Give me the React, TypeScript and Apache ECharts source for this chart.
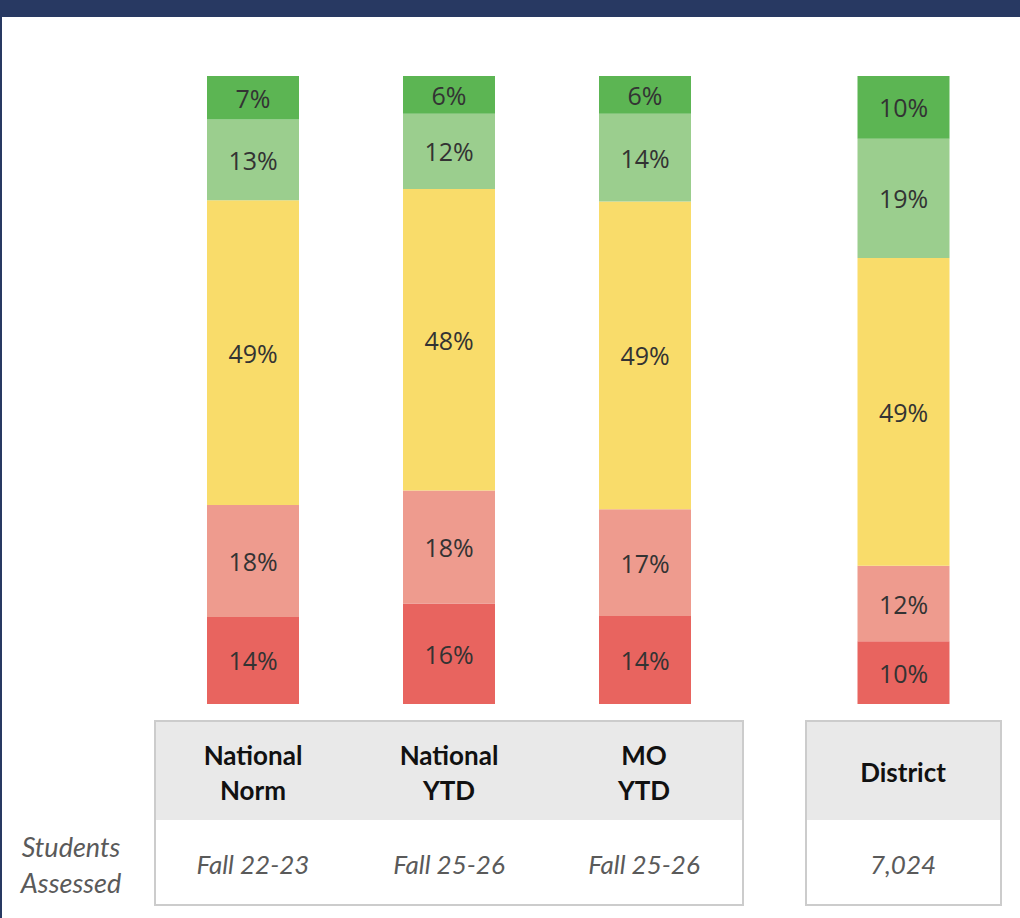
import React, { useEffect, useRef } from "react";
import * as echarts from "echarts";

const groupCategories = ["National Norm", "National YTD", "MO YTD"];
const groupHeaderLines = [["National", "Norm"], ["National", "YTD"], ["MO", "YTD"]];
const groupAssessed = ["Fall 22-23", "Fall 25-26", "Fall 25-26"];
const districtCategories = ["District"];
const districtAssessed = ["7,024"];

const levelNames = ["Low", "LoAvg", "Avg", "HiAvg", "High"];
const levelColors = ["#E8645F", "#EE9B8E", "#F9DC6A", "#9BCE8E", "#5CB553"];

// values per level (bottom to top), one entry per bar
const groupLow = [14, 16, 14];
const groupLoAvg = [18, 18, 17];
const groupAvg = [49, 48, 49];
const groupHiAvg = [13, 12, 14];
const groupHigh = [7, 6, 6];

const districtLow = [10];
const districtLoAvg = [12];
const districtAvg = [49];
const districtHiAvg = [19];
const districtHigh = [10];

const rowLabel = ["Students", "Assessed"];

export default function App() {
  const ref = useRef<HTMLDivElement>(null);

  useEffect(() => {
    if (!ref.current) return;
    const chart = echarts.init(ref.current, null, { renderer: "svg" });

    const groupLevels = [groupLow, groupLoAvg, groupAvg, groupHiAvg, groupHigh];
    const districtLevels = [districtLow, districtLoAvg, districtAvg, districtHiAvg, districtHigh];

    const normalize = (levels: number[][]) => {
      const n = levels[0].length;
      const totals = Array.from({ length: n }, (_, i) => levels.reduce((s, l) => s + l[i], 0));
      return levels.map((l) => l.map((v, i) => ({ value: (v / totals[i]) * 100, raw: v })));
    };

    const gN = normalize(groupLevels);
    const dN = normalize(districtLevels);

    const labelStyle = {
      show: true,
      position: "inside" as const,
      fontFamily: "Open Sans",
      fontSize: 25,
      color: "#333333",
      formatter: (p: any) => `${p.data.raw}%`,
    };

    const mkSeries = (norm: any[], axisIdx: number, stack: string) =>
      norm.map((d, k) => ({
        type: "bar",
        name: levelNames[k],
        stack,
        xAxisIndex: axisIdx,
        yAxisIndex: axisIdx,
        barWidth: 92,
        data: d,
        itemStyle: { color: levelColors[k] },
        label: labelStyle,
        emphasis: { disabled: true },
      }));

    const headerFont = { fontFamily: "Lato", fontWeight: "bold" as const, fontSize: 26, fill: "#111111" };
    const italicFont = { fontFamily: "Lato", fontStyle: "italic" as const, fontSize: 26, fill: "#5a5a5a" };
    const rowFont = { ...italicFont, fontSize: 27 };

    const graphics: any[] = [
      { type: "rect", shape: { x: 0, y: 0, width: 1020, height: 17 }, style: { fill: "#283962" }, z: 10 },
      { type: "rect", shape: { x: 0, y: 0, width: 2, height: 918 }, style: { fill: "#283962" }, z: 10 },
      // table 1
      { type: "rect", shape: { x: 155, y: 721, width: 588, height: 99 }, style: { fill: "#E9E9E9" } },
      { type: "rect", shape: { x: 155, y: 721, width: 588, height: 184 }, style: { fill: "none", stroke: "#CCCCCC", lineWidth: 2 } },
      // table 2
      { type: "rect", shape: { x: 806, y: 721, width: 195, height: 99 }, style: { fill: "#E9E9E9" } },
      { type: "rect", shape: { x: 806, y: 721, width: 195, height: 184 }, style: { fill: "none", stroke: "#CCCCCC", lineWidth: 2 } },
      {
        type: "text",
        x: 71,
        y: 846,
        style: { text: rowLabel[0], ...rowFont, align: "center", verticalAlign: "middle" },
      },
      {
        type: "text",
        x: 71,
        y: 882,
        style: { text: rowLabel[1], ...rowFont, align: "center", verticalAlign: "middle" },
      },
    ];

    const colCenters = [253, 449, 644];
    groupCategories.forEach((_, i) => {
      graphics.push({
        type: "text",
        x: colCenters[i],
        y: 755,
        style: { text: groupHeaderLines[i][0], ...headerFont, align: "center", verticalAlign: "middle" },
      });
      graphics.push({
        type: "text",
        x: colCenters[i],
        y: 790,
        style: { text: groupHeaderLines[i][1], ...headerFont, align: "center", verticalAlign: "middle" },
      });
      graphics.push({
        type: "text",
        x: colCenters[i],
        y: 864,
        style: { text: groupAssessed[i], ...italicFont, align: "center", verticalAlign: "middle" },
      });
    });
    graphics.push({
      type: "text",
      x: 903,
      y: 772,
      style: { text: districtCategories[0], ...headerFont, align: "center", verticalAlign: "middle" },
    });
    graphics.push({
      type: "text",
      x: 903,
      y: 864,
      style: { text: districtAssessed[0], ...italicFont, align: "center", verticalAlign: "middle" },
    });

    const hiddenAxis = {
      axisLine: { show: false },
      axisTick: { show: false },
      axisLabel: { show: false },
      splitLine: { show: false },
    };

    chart.setOption({
      animation: false,
      backgroundColor: "#ffffff",
      grid: [
        { left: 155, top: 76, width: 588, height: 628 },
        { left: 806, top: 76, width: 195, height: 628 },
      ],
      xAxis: [
        { type: "category", gridIndex: 0, data: groupCategories, ...hiddenAxis },
        { type: "category", gridIndex: 1, data: districtCategories, ...hiddenAxis },
      ],
      yAxis: [
        { type: "value", gridIndex: 0, min: 0, max: 100, ...hiddenAxis },
        { type: "value", gridIndex: 1, min: 0, max: 100, ...hiddenAxis },
      ],
      series: [...mkSeries(gN, 0, "g"), ...mkSeries(dN, 1, "d")],
      graphic: graphics,
    });

    return () => chart.dispose();
  }, []);

  return (
    <div
      ref={ref}
      style={{ position: "fixed", left: 0, top: 0, width: 1020, height: 918, background: "#fff" }}
    />
  );
}
